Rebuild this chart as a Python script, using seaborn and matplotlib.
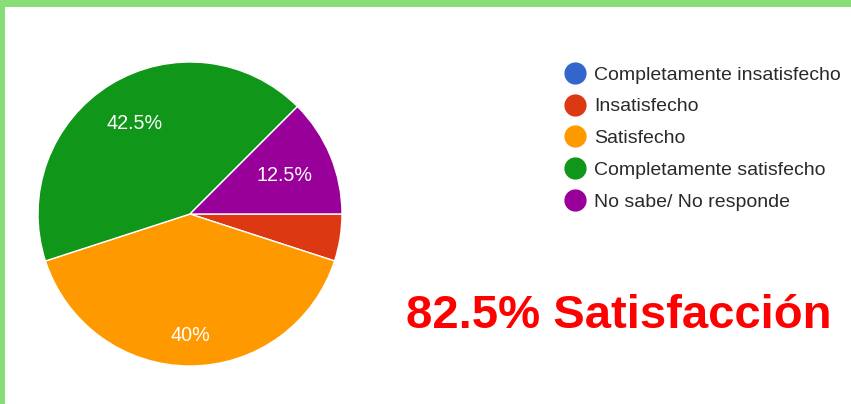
import matplotlib
matplotlib.use('Agg')
import matplotlib.pyplot as plt
import seaborn as sns
import numpy as np
from matplotlib.lines import Line2D
from matplotlib.patches import Rectangle

# Survey answers (percent of responses)
categories = [
    "Completamente insatisfecho",
    "Insatisfecho",
    "Satisfecho",
    "Completamente satisfecho",
    "No sabe/ No responde",
]
shares = [0.0, 5.0, 40.0, 42.5, 12.5]
slice_colors = ["#3366CC", "#DC3912", "#FF9900", "#109618", "#990099"]
headline = "82.5% Satisfacción"

sns.set_theme(style="white")
plt.rcParams['font.family'] = ['Liberation Sans', 'DejaVu Sans']

fig = plt.figure(figsize=(8.51, 4.04), dpi=100)
fig.patch.set_facecolor("white")

# pie: centre (190, 214) px, radius 152 px
ax = fig.add_axes([38 / 851, 38 / 404, 304 / 851, 304 / 404])
wedges, _ = ax.pie(
    shares,
    colors=slice_colors,
    startangle=0,
    counterclock=False,
    radius=1.0,
    wedgeprops={"edgecolor": "white", "linewidth": 1.0},
)
ax.set_xlim(-1, 1)
ax.set_ylim(-1, 1)
ax.set_aspect("equal")
ax.axis("off")

# percentage labels inside the slices (skip small ones)
label_dist = [0.0, 0.0, 0.8, 0.7, 0.67]
for w, val, d in zip(wedges, shares, label_dist):
    if val < 10:
        continue
    mid = np.deg2rad((w.theta1 + w.theta2) / 2)
    ax.text(d * np.cos(mid), d * np.sin(mid), f"{val:g}%", color="white",
            fontsize=14.2, ha="center", va="center")

# legend with round markers
handles = [Line2D([], [], marker="o", linestyle="none", markersize=15,
                  markerfacecolor=c, markeredgecolor=c) for c in slice_colors]
fig.legend(handles, categories, loc="upper left",
           bbox_to_anchor=(565 / 851, 1 - 66 / 404),
           frameon=False, fontsize=14, labelcolor="#2a2a2a",
           handlelength=1.0, handletextpad=0.5, labelspacing=0.73,
           borderpad=0, borderaxespad=0)

fig.text(619 / 851, 1 - 328 / 404, headline, color="#FF0000",
         fontsize=34, fontweight="bold", ha="center", va="baseline")

# green frame on top and left
frame_color = "#88DD77"
fig.patches.append(Rectangle((0, 1 - 7 / 404), 1, 7 / 404, transform=fig.transFigure,
                             facecolor=frame_color, edgecolor="none", zorder=5))
fig.patches.append(Rectangle((0, 0), 5 / 851, 1, transform=fig.transFigure,
                             facecolor=frame_color, edgecolor="none", zorder=5))

fig.savefig("out.png", dpi=100)
plt.close(fig)
